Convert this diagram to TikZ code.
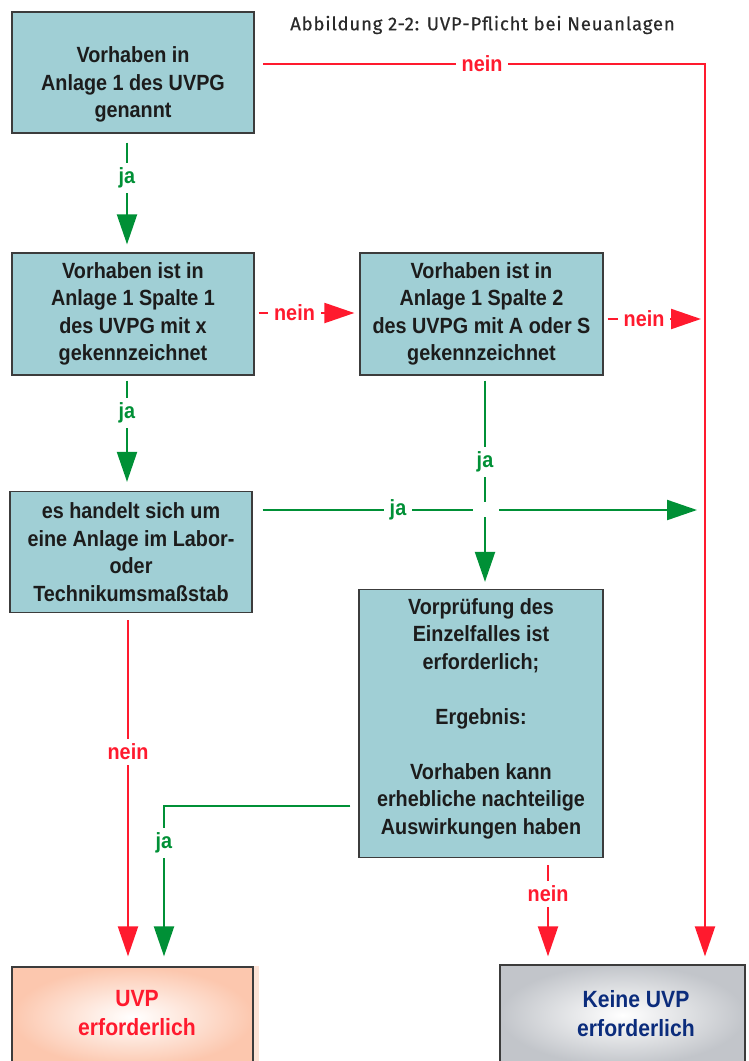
\documentclass[tikz,border=0pt]{standalone}
\usepackage{fontspec}
\usetikzlibrary{arrows.meta,calc}
\newfontfamily\narrowsans[FakeStretch=0.9]{Liberation Sans}
\newfontfamily\titlesans[LetterSpace=4.5,FakeBold=0.5]{Fira Sans}
\definecolor{boxfill}{HTML}{A0CFD5}
\definecolor{boxline}{HTML}{3C3C3C}
\definecolor{nred}{HTML}{FF1A2E}
\definecolor{jgreen}{HTML}{009036}
\definecolor{peach}{HTML}{FCC7AE}
\definecolor{greybox}{HTML}{C2C5CA}
\definecolor{navy}{HTML}{0B2C7C}
\definecolor{titlegray}{HTML}{2A2A2A}
\definecolor{boxtext}{HTML}{1C1C1C}
\begin{document}
\begin{tikzpicture}[x=1pt,y=-1pt,
  txt/.style={font=\narrowsans\bfseries\fontsize{22}{27.5}\selectfont, align=center},
  bigtxt/.style={font=\narrowsans\bfseries\fontsize{23.5}{29}\selectfont, align=center},
  flowbox/.style={draw=boxline, line width=1.3pt, fill=boxfill, inner sep=0pt, txt, text=boxtext},
  endbox/.style={draw=boxline, line width=1.3pt, inner sep=0pt, minimum height=100pt, shade, shading=radial, inner color=white},
  conn/.style={line width=2.2pt},
  nein/.style={conn, draw=nred},
  ja/.style={conn, draw=jgreen},
  bigtip/.style={-{Triangle[length=30pt,width=20pt]}},
  lab/.style={txt, fill=white, inner xsep=6pt, inner ysep=4.5pt},
  rlab/.style={lab, text=nred},
  glab/.style={lab, text=jgreen},
]
\useasboundingbox (0,0) rectangle (748,1061);
\clip (0,0) rectangle (748,1061);

\node[font=\titlesans\fontsize{18.5}{22}\selectfont, text=titlegray] (title) at (482.5,25) {Abbildung 2-2: UVP-Pflicht bei Neuanlagen};

\node[flowbox, minimum width=242pt, minimum height=121pt,
  label={[txt, text=boxtext, yshift=-12pt]center:{Vorhaben in\\Anlage 1 des UVPG\\genannt}}] (b1) at (133,72.5) {};
\node[flowbox, minimum width=242pt, minimum height=122pt] (b2) at (133,314)
  {Vorhaben ist in\\Anlage 1 Spalte 1\\des UVPG mit x\\gekennzeichnet};
\node[flowbox, minimum width=243pt, minimum height=122pt] (b3) at (481.5,314)
  {Vorhaben ist in\\Anlage 1 Spalte 2\\des UVPG mit A oder S\\gekennzeichnet};
\node[flowbox, minimum width=242pt, minimum height=121pt] (b4) at (131,552)
  {es handelt sich um\\eine Anlage im Labor-\\oder\\Technikumsmaßstab};
\node[flowbox, minimum width=244pt, minimum height=268pt,
  label={[txt, text=boxtext, yshift=5pt]center:{Vorprüfung des\\Einzelfalles ist\\erforderlich;\\[27.5pt]Ergebnis:\\[27.5pt]Vorhaben kann\\erhebliche nachteilige\\Auswirkungen haben}}] (b5) at (481,723.5) {};

\node[endbox, minimum width=241pt, outer color=peach,
  label={[bigtxt, text=nred, xshift=4.5pt, yshift=4pt]center:{UVP\\erforderlich}}] (b6) at (132.5,1017) {};
\fill[peach!50] ([xshift=0.7pt]b6.north east) rectangle ([xshift=5pt]b6.south east);
\node[endbox, minimum width=245pt, outer color=greybox,
  label={[bigtxt, text=navy, xshift=13.5pt, yshift=1pt]center:{Keine UVP\\erforderlich}}] (b7) at (622.5,1015) {};

\coordinate (rt) at (705,64);

% connectors
\draw[nein, bigtip, shorten <=8.5pt, shorten >=8pt] ([yshift=8.5pt]b1.east) -| (b7.north -| rt);
\draw[ja, bigtip, shorten <=9pt, shorten >=8pt] ([xshift=-6pt]b1.south) -- ([xshift=-6pt]b2.north);
\draw[nein, bigtip, shorten <=4pt, shorten >=5pt] ([yshift=1pt]b2.east) -- ([yshift=1pt]b3.west);
\draw[nein, bigtip, shorten <=4pt, shorten >=4pt] ([yshift=-5pt]b3.east) -- ([yshift=-5pt]b3.east -| rt);
\draw[ja, bigtip, shorten <=5pt, shorten >=9pt] ([xshift=-6pt]b2.south) -- ([xshift=-6pt]b2.south |- b4.north);
\draw[ja, bigtip, shorten <=5pt, shorten >=7pt] ([xshift=3.5pt]b3.south) -- ([xshift=3.5pt]b3.south |- b5.north);
\draw[ja, bigtip, shorten <=10pt, shorten >=8pt] ([yshift=42pt]b4.east) -- ([yshift=42pt]b4.east -| rt);
\draw[nein, bigtip, shorten <=7pt, shorten >=10pt] ([xshift=-3pt]b4.south) -- ([xshift=-3pt]b4.south |- b6.north);
\draw[ja, bigtip, shorten <=8pt, shorten >=10pt] ([yshift=-82.5pt]b5.west) -| ([xshift=31.5pt]b6.north);
\draw[nein, bigtip, shorten <=7pt, shorten >=8pt] ([xshift=67pt]b5.south) -- ([xshift=67pt]b5.south |- b7.north);

% gap at the crossing
\fill[white] (473,502) rectangle (499,517);

% labels
\node[rlab] (l1) at (482,64) {nein};
\node[glab] (l2) at (127,178) {ja};
\node[rlab] (l3) at (294.5,313) {nein};
\node[rlab] (l4) at (644,319) {nein};
\node[glab] (l5) at (127,413) {ja};
\node[glab] (l6) at (485,462) {ja};
\node[glab] (l7) at (398,510) {ja};
\node[rlab] (l8) at (128,752) {nein};
\node[glab] (l9) at (164,843) {ja};
\node[rlab] (l10) at (548,894) {nein};
\end{tikzpicture}
\end{document}
